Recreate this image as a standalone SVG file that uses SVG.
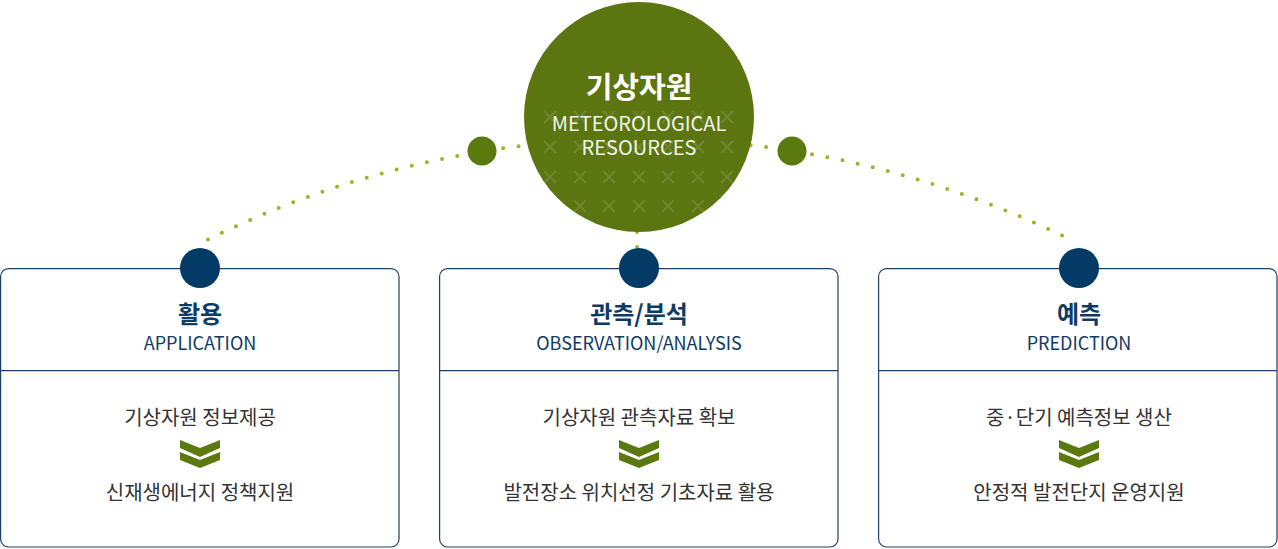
<svg xmlns="http://www.w3.org/2000/svg" width="1278" height="549" viewBox="0 0 1278 549">
<style>
.box{fill:#fff;stroke:#1d4068;stroke-width:1.2}
.div{stroke:#1d4068;stroke-width:1.2}
.navy{fill:#033a66}
.gdot{fill:#5a7a0f}
.title{font-family:"Noto Sans CJK KR","Noto Sans",sans-serif;font-weight:700;font-size:24px;fill:#0e3a66;text-anchor:middle}
.sub{font-family:"Noto Sans CJK KR","Noto Sans",sans-serif;font-size:18px;fill:#0e3a66;text-anchor:middle}
.body{font-family:"Noto Sans CJK KR","Noto Sans",sans-serif;font-size:20px;fill:#333;text-anchor:middle}
.chev{fill:#5a7a0f}
.dots{fill:none;stroke:#9ab52a;stroke-width:4;stroke-linecap:round}
.ctitle{font-family:"Noto Sans CJK KR","Noto Sans",sans-serif;font-weight:700;font-size:29px;fill:#fff;text-anchor:middle}
.csub{font-family:"Noto Sans CJK KR","Noto Sans",sans-serif;font-size:20px;fill:#f2f4ea;text-anchor:middle}
.x{stroke:#ffffff;stroke-opacity:0.13;stroke-width:2}
</style>
<defs>
<clipPath id="cc"><circle cx="639" cy="117" r="115"/></clipPath>
<path id="chevs" d="M-20 0 L0 8 L20 0 L20 8 L0 17 L-20 8 Z M-20 12 L0 20 L20 12 L20 20 L0 28 L-20 20 Z"/>
<path id="xm" d="M-6 -6 L6 6 M6 -6 L-6 6"/>
</defs>
<g id="connectors">
<path class="dots" stroke-dasharray="0 15.51" d="M208 239.5 A972.3 972.3 0 0 1 1070 239.5"/>
<path class="dots" stroke-dasharray="0 15" d="M637 232 L637 248"/>
</g>
<g id="center">
<circle cx="639" cy="117" r="115" fill="#5b7510"/>
<g clip-path="url(#cc)">
<g transform="translate(0,117)"><use href="#xm" x="550" class="x"/><use href="#xm" x="580" class="x"/><use href="#xm" x="609" class="x"/><use href="#xm" x="639" class="x"/><use href="#xm" x="668" class="x"/><use href="#xm" x="698" class="x"/><use href="#xm" x="727" class="x"/></g>
<g transform="translate(0,147)"><use href="#xm" x="550" class="x"/><use href="#xm" x="580" class="x"/><use href="#xm" x="609" class="x"/><use href="#xm" x="639" class="x"/><use href="#xm" x="668" class="x"/><use href="#xm" x="698" class="x"/><use href="#xm" x="727" class="x"/></g>
<g transform="translate(0,177)"><use href="#xm" x="550" class="x"/><use href="#xm" x="580" class="x"/><use href="#xm" x="609" class="x"/><use href="#xm" x="639" class="x"/><use href="#xm" x="668" class="x"/><use href="#xm" x="698" class="x"/><use href="#xm" x="727" class="x"/></g>
<g transform="translate(0,206)"><use href="#xm" x="550" class="x"/><use href="#xm" x="580" class="x"/><use href="#xm" x="609" class="x"/><use href="#xm" x="639" class="x"/><use href="#xm" x="668" class="x"/><use href="#xm" x="698" class="x"/><use href="#xm" x="727" class="x"/></g>
</g>
<text class="ctitle" x="639" y="98">기상자원</text>
<text class="csub" x="639" y="131">METEOROLOGICAL</text>
<text class="csub" x="639" y="155">RESOURCES</text>
</g>
<g id="dot-left"><circle class="gdot" cx="482" cy="151" r="14.5"/></g>
<g id="dot-right"><circle class="gdot" cx="792" cy="151" r="14.5"/></g>
<g id="box-application">
<rect class="box" x="0.6" y="268.6" width="398.4" height="278.4" rx="8"/>
<line class="div" x1="0.6" y1="370.6" x2="399" y2="370.6"/>
<circle class="navy" cx="200" cy="268" r="20"/>
<text class="title" x="200" y="323">활용</text>
<text class="sub" x="200" y="350">APPLICATION</text>
<text class="body" x="200" y="425">기상자원 정보제공</text>
<use href="#chevs" class="chev" x="200" y="440"/>
<text class="body" x="200" y="500">신재생에너지 정책지원</text>
</g>
<g id="box-observation">
<rect class="box" x="439.6" y="268.6" width="398.4" height="278.4" rx="8"/>
<line class="div" x1="439.6" y1="370.6" x2="838" y2="370.6"/>
<circle class="navy" cx="639" cy="268" r="20"/>
<text class="title" x="639" y="323">관측/분석</text>
<text class="sub" x="639" y="350">OBSERVATION/ANALYSIS</text>
<text class="body" x="639" y="425">기상자원 관측자료 확보</text>
<use href="#chevs" class="chev" x="639" y="440"/>
<text class="body" x="639" y="500">발전장소 위치선정 기초자료 활용</text>
</g>
<g id="box-prediction">
<rect class="box" x="878.6" y="268.6" width="398.4" height="278.4" rx="8"/>
<line class="div" x1="878.6" y1="370.6" x2="1277" y2="370.6"/>
<circle class="navy" cx="1079" cy="268" r="20"/>
<text class="title" x="1079" y="323">예측</text>
<text class="sub" x="1079" y="350">PREDICTION</text>
<text class="body" x="1079" y="425">중·단기 예측정보 생산</text>
<use href="#chevs" class="chev" x="1079" y="440"/>
<text class="body" x="1079" y="500">안정적 발전단지 운영지원</text>
</g>
</svg>
